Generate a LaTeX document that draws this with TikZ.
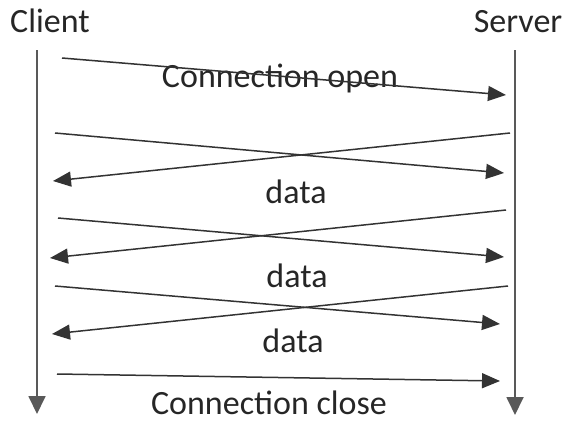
\documentclass[tikz,border=0pt]{standalone}
\usepackage{fontspec}
\setmainfont{Carlito}
\usetikzlibrary{arrows.meta}

\begin{document}
\begin{tikzpicture}[x=1pt, y=-1pt,
  actor/.style = {font=\fontsize{34}{40}\selectfont, inner sep=0pt, anchor=base, text=black!85},
  life/.style  = {line width=1.8pt, draw=black!65, -{Triangle[length=18pt,width=17pt]}},
  msg/.style   = {line width=1.5pt, draw=black!80, -{Triangle[length=18pt,width=15pt]}},
  lbl/.style   = {font=\fontsize{34}{40}\selectfont, inner sep=0pt, anchor=base, text=black!85},
]
  \useasboundingbox (0,0) rectangle (569,423);

  % the two parties and their time lines (labels sit on their baselines)
  \node[actor] (client) at (50,32) {Client};
  \node[actor] (server) at (518,32) {Server};
  \coordinate (ctop) at (37,50);  \coordinate (cend) at (37,414);
  \coordinate (stop) at (515,50); \coordinate (send) at (515,415);
  \draw[life] (ctop) -- (cend);
  \draw[life] (stop) -- (send);

  % labels (drawn first: the open message runs through its text)
  \node[lbl] (open)  at (280,87)  {Connection open};
  \node[lbl] (data1) at (296,203) {data};
  \node[lbl] (data2) at (297,287) {data};
  \node[lbl] (data3) at (293,352) {data};
  \node[lbl] (close) at (269,414) {Connection close};

  % message ends: a = client side, b = server side
  \coordinate (a0) at (62,58);   \coordinate (b0) at (506,95);
  \coordinate (a1) at (55,133);  \coordinate (b1) at (504,173);
  \coordinate (b2) at (510,133); \coordinate (a2) at (53,181);
  \coordinate (a3) at (58,218);  \coordinate (b3) at (504,257);
  \coordinate (b4) at (506,210); \coordinate (a4) at (50,258);
  \coordinate (a5) at (55,286);  \coordinate (b5) at (500,324);
  \coordinate (b6) at (508,286); \coordinate (a6) at (52,334);
  \coordinate (a7) at (57,374);  \coordinate (b7) at (500,381);

  \draw[msg] (a0) -- (b0);
  \draw[msg] (a1) -- (b1);
  \draw[msg] (b2) -- (a2);
  \draw[msg] (a3) -- (b3);
  \draw[msg] (b4) -- (a4);
  \draw[msg] (a5) -- (b5);
  \draw[msg] (b6) -- (a6);
  \draw[msg] (a7) -- (b7);
\end{tikzpicture}
\end{document}
